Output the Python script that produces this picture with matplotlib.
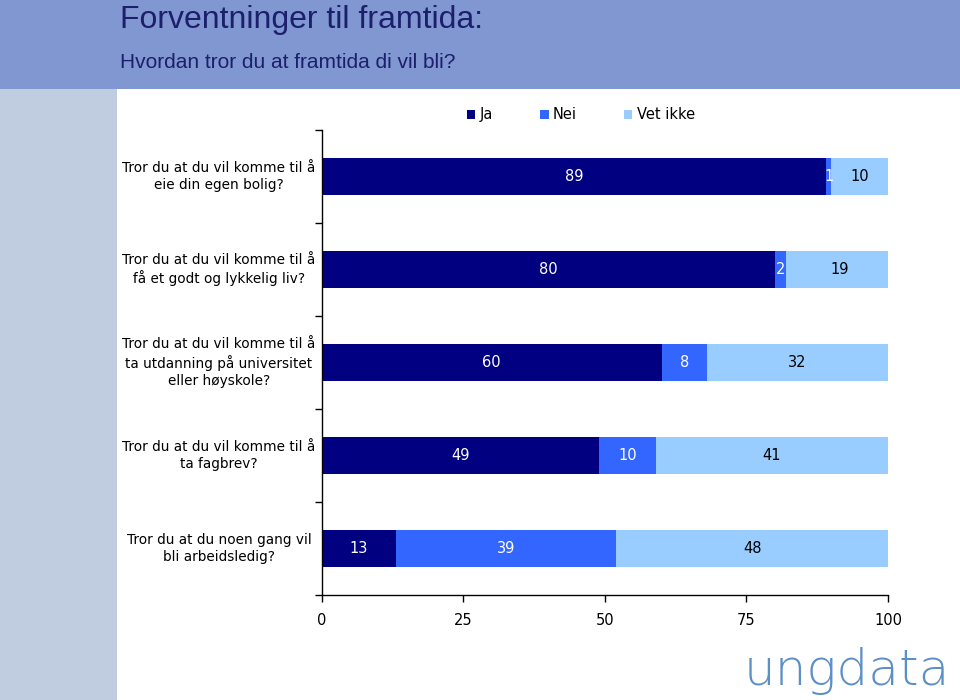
import matplotlib
matplotlib.use("Agg")
from matplotlib import pyplot as plt
from matplotlib.patches import Rectangle
import matplotlib.transforms as mtransforms
import numpy as np

# data
questions = ["Tror du at du vil komme til å\neie din egen bolig?",
             "Tror du at du vil komme til å\nfå et godt og lykkelig liv?",
             "Tror du at du vil komme til å\nta utdanning på universitet\neller høyskole?",
             "Tror du at du vil komme til å\nta fagbrev?",
             "Tror du at du noen gang vil\nbli arbeidsledig?"]
ja = [89, 80, 60, 49, 13]
nei = [1, 2, 8, 10, 39]
vet_ikke = [10, 19, 32, 41, 48]
series_names = ["Ja", "Nei", "Vet ikke"]
colors = ["#000080", "#3366FF", "#99CCFF"]
text_colors = ["white", "white", "black"]
xticks = [0, 25, 50, 75, 100]

font = "DejaVu Sans"
title_font = ["Liberation Sans Narrow", "Liberation Sans", "DejaVu Sans"]
fig = plt.figure(figsize=(9.6, 7), dpi=100)
fig.patch.set_facecolor("white")

# bakgrunn: blått toppfelt og grå stripe til venstre
fig.patches.append(Rectangle((0, 0.873), 1, 0.127, transform=fig.transFigure,
                             facecolor="#8197D2", edgecolor="none", zorder=0))
fig.patches.append(Rectangle((0, 0), 0.122, 0.873, transform=fig.transFigure,
                             facecolor="#C0CCE0", edgecolor="none", zorder=0))

fig.text(0.125, 0.972, "Forventninger til framtida:", fontsize=23, color="#1C1F6B",
         family=title_font, va="center", ha="left")
fig.text(0.125, 0.911, "Hvordan tror du at framtida di vil bli?", fontsize=15, color="#1C1F6B",
         family=title_font, va="center", ha="left")

ax = fig.add_axes([0.3354, 0.15, 0.5896, 0.6643])
y = np.arange(len(questions))
left = np.zeros(len(questions))
for vals, name, c, tc in zip([ja, nei, vet_ikke], series_names, colors, text_colors):
    vals = np.array(vals, dtype=float)
    ax.barh(y, vals, left=left, height=0.4, color=c, label=name)
    for yi, l, v in zip(y, left, vals):
        ax.text(l + v / 2, yi, str(int(v)), ha="center", va="center",
                color=tc, fontsize=10.5, family=font)
    left += vals

ax.set_xlim(0, 100)
ax.set_ylim(len(questions) - 0.5, -0.5)
ax.set_xticks(xticks)
ax.set_xticklabels([str(t) for t in xticks], fontsize=10.5, family=font)
ax.tick_params(axis="x", direction="out", length=5, pad=8, width=1)
ax.set_yticks(np.arange(-0.5, len(questions), 1))
ax.set_yticklabels([])
ax.tick_params(axis="y", direction="out", length=5, width=1)
for s in ["top", "right"]:
    ax.spines[s].set_visible(False)
ax.spines["left"].set_linewidth(1)
ax.spines["bottom"].set_linewidth(1)

trans = mtransforms.blended_transform_factory(fig.transFigure, ax.transData)
for yi, q in zip(y, questions):
    ax.text(0.228, yi, q, transform=trans, ha="center", va="center",
            multialignment="center", fontsize=9.8, family=font, linespacing=1.3)

fig.legend(loc="center", bbox_to_anchor=(0.605, 0.836), ncol=3, frameon=False,
           handlelength=0.6, handleheight=0.6, handletextpad=0.3, columnspacing=3.2,
           prop={"family": font, "size": 10.5})

# logo
fig.text(0.775, 0.022, "ungdata", fontsize=36, color="#5B8FC8", family="DejaVu Sans",
         fontweight="light", ha="left", va="baseline")

fig.savefig("out.png", dpi=100)
